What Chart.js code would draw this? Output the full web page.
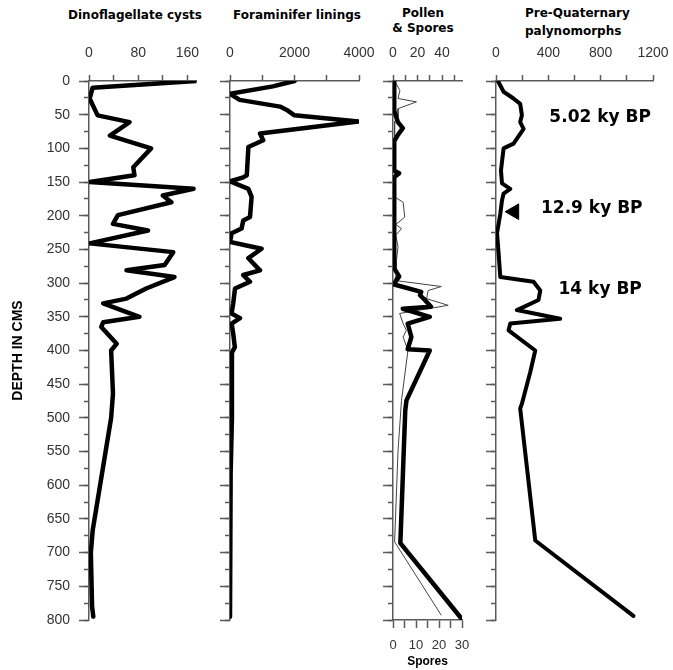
<!DOCTYPE html>
<html>
<head>
<meta charset="utf-8">
<title>Palynomorph depth profiles</title>
<script src="https://cdn.jsdelivr.net/npm/chart.js@4.4.1/dist/chart.umd.min.js"></script>
<style>
  body { margin: 0; background: #fff; }
  #wrap { position: relative; width: 673px; height: 670px; overflow: hidden; }
  canvas { position: absolute; top: 0; }
  .ttl { position: absolute; font: bold 12px "DejaVu Sans", sans-serif; color: #000; white-space: nowrap; }
</style>
</head>
<body>
<div id="wrap">
  <div class="ttl" style="left:65px;top:8px;width:140px;text-align:center">Dinoflagellate cysts</div>
  <div class="ttl" style="left:227px;top:8px;width:140px;text-align:center">Foraminifer linings</div>
  <div class="ttl" style="left:373px;top:6px;width:100px;text-align:center;line-height:15px">Pollen<br>&amp; Spores</div>
  <div class="ttl" style="left:525px;top:4px;line-height:18px">Pre-Quaternary<br>palynomorphs</div>
  <canvas id="dinoChart" width="225" height="670" style="left:0px"></canvas>
  <canvas id="foramChart" width="200" height="670" style="left:190px"></canvas>
  <canvas id="pollenChart" width="125" height="670" style="left:365px"></canvas>
  <canvas id="preQChart" width="225" height="670" style="left:465px"></canvas>
</div>
<script>
// Dinoflagellate cysts
const dinoDepth  = [0, 10, 26, 51, 61, 81, 100, 128, 140, 150, 160, 170, 180, 199, 212, 222, 241, 254, 273, 281, 291, 308, 323, 330, 350, 358, 365, 390, 400, 464, 500, 667, 700, 780, 795];
const dinoValues = [174, 6, 1, 14, 66, 34, 101, 72, 74, 1, 170, 120, 134, 47, 39, 96, 1, 137, 123, 61, 139, 93, 61, 23, 82, 23, 20, 45, 36, 39, 36, 6, 3, 5, 7];

// Foraminifer linings
const foramDepth  = [0, 8, 19, 28, 38, 43, 51, 60, 78, 88, 98, 140, 143, 149, 160, 172, 202, 207, 219, 226, 239, 249, 263, 281, 288, 298, 308, 330, 345, 352, 360, 375, 395, 404, 500, 582, 795];
const foramValues = [2000, 1330, 0, 300, 1550, 1760, 2000, 3980, 930, 1030, 570, 520, 410, 0, 570, 670, 620, 410, 360, 50, 0, 980, 570, 930, 410, 620, 155, 100, 50, 310, 50, 100, 150, 50, 60, 20, 0];

// Pollen & Spores (top axis, thick line)
const pollenDepth  = [0, 44, 61, 70, 80, 89, 133, 137, 143, 278, 290, 298, 302, 313, 318, 325, 335, 338, 350, 360, 380, 398, 400, 474, 489, 686, 797];
const pollenValues = [1, 1, 4, 8, 4, 1, 1, 5, 1, 1, 5, 2, 1, 23, 22, 26, 31, 8, 30, 12, 15, 12, 30, 11, 10, 6, 55.5];

// Spores (bottom axis, thin line)
const sporeDepth  = [0, 14, 26, 31, 41, 53, 60, 172, 180, 202, 213, 219, 229, 246, 266, 286, 296, 305, 311, 323, 333, 345, 360, 370, 380, 400, 474, 548, 684, 793];
const sporeValues = [0.7, 3, 2.2, 10.2, 2.2, 2.2, 0.7, 0.7, 4.4, 5.1, 1.2, 3.7, 1.2, 2.2, 1.5, 1.5, 0.7, 21, 15.3, 14.6, 24, 2.9, 4.4, 5.8, 4.4, 6.5, 3.7, 2.2, 0.7, 21];

// Pre-Quaternary palynomorphs
const preQDepth  = [0, 16, 26, 34, 51, 61, 71, 93, 100, 133, 152, 160, 167, 177, 197, 226, 256, 291, 298, 311, 325, 340, 353, 360, 370, 400, 432, 479, 486, 682, 794];
const preQValues = [15, 58, 134, 185, 198, 185, 211, 134, 58, 38, 46, 109, 58, 46, 33, 8, 20, 33, 287, 338, 325, 160, 490, 109, 96, 300, 262, 198, 185, 300, 1050];

// Age markers on the pre-Quaternary panel
const ageLabels = ["5.02 ky BP", "12.9 ky BP", "14 ky BP"];
const ageLabelValue = [796, 732, 796];
const ageLabelDepth = [55, 189, 310];
const markerValue = [139];
const markerDepth = [194];

// Top / bottom axis tick labels
const dinoTickLabels = [0, 80, 160];
const foramTickLabels = [0, 2000, 4000];
const pollenTickLabels = [0, 20, 40];
const sporeTickLabels = [0, 10, 20, 30];
const preQTickLabels = [0, 400, 800, 1200];

const AXIS = "#5a5a5a";
const TEXT = "#333";
const DEPTH_MAX = 800;

Chart.defaults.font.family = '"Liberation Sans", Arial, sans-serif';
Chart.defaults.color = TEXT;

function toPoints(depths, values) {
    return depths.map((d, i) => ({ x: values[i], y: d }));
}

function depthAxes(leftWidth, showLabels) {
    return {
        y: {
            type: "linear", position: "left", reverse: true, min: 0, max: DEPTH_MAX, weight: 1,
            afterFit: s => { s.width = leftWidth; },
            border: { display: true, color: AXIS, width: 1.5 },
            grid: { drawOnChartArea: false, tickLength: 10, color: AXIS, tickWidth: 1.5 },
            ticks: { display: showLabels, stepSize: 50, autoSkip: false, padding: 9, color: TEXT, font: { size: 14 } },
            title: {
                display: showLabels, text: "DEPTH IN CMS", color: "#000",
                font: { size: 14, weight: "bold" }, padding: { top: 10, bottom: 0 }
            }
        },
        // short ticks every 25 cm
        yMinor: {
            type: "linear", position: "left", reverse: true, min: 0, max: DEPTH_MAX, weight: 0,
            afterFit: s => { s.width = 0; },
            border: { display: false },
            grid: { drawOnChartArea: false, tickLength: 5, color: AXIS, tickWidth: 1.5 },
            ticks: { display: false, stepSize: 25, autoSkip: false }
        }
    };
}

function valueAxis(position, max, step, labels, size) {
    return {
        type: "linear", position: position, min: 0, max: max,
        afterFit: s => { s.height = size; },
        border: { color: AXIS, width: 1.5 },
        grid: { drawOnChartArea: false, tickLength: position === "top" ? 6 : 8, color: AXIS, tickWidth: 1.5 },
        ticks: {
            stepSize: step, includeBounds: false, autoSkip: false, maxRotation: 0,
            padding: position === "top" ? 13 : 10, color: TEXT, font: { size: position === "top" ? 14 : 13 },
            callback: v => labels.includes(v) ? String(v) : ""
        }
    };
}

function thickLine(points, width) {
    return {
        data: points, showLine: true, borderColor: "#000", borderWidth: width,
        pointRadius: 0, tension: 0, borderJoinStyle: "round", borderCapStyle: "round",
        xAxisID: "x", yAxisID: "y"
    };
}

const agePlugin = {
    id: "ageLabels",
    afterDatasetsDraw(chart) {
        const { ctx, scales } = chart;
        ctx.save();
        ctx.font = 'bold 17px "DejaVu Sans", sans-serif';
        ctx.fillStyle = "#000";
        ctx.textAlign = "center";
        ctx.textBaseline = "middle";
        ageLabels.forEach((t, i) => {
            ctx.fillText(t, scales.x.getPixelForValue(ageLabelValue[i]), scales.y.getPixelForValue(ageLabelDepth[i]));
        });
        ctx.restore();
    }
};

function makePanel(id, datasets, scales, padding, plugins) {
    return new Chart(document.getElementById(id), {
        type: "scatter",
        data: { datasets: datasets },
        options: {
            responsive: false,
            animation: false,
            events: [],
            layout: { padding: padding },
            plugins: { legend: { display: false }, tooltip: { enabled: false }, title: { display: false } },
            scales: scales
        },
        plugins: plugins || []
    });
}

// canvas right edge minus wanted chart-area right edge
makePanel("dinoChart",
    [thickLine(toPoints(dinoDepth, dinoValues), 4.5)],
    Object.assign({ x: valueAxis("top", 175, 40, dinoTickLabels, 81) }, depthAxes(89, true)),
    { left: 0, right: 225 - 196.6, top: 0, bottom: 50 });

makePanel("foramChart",
    [thickLine(toPoints(foramDepth, foramValues), 4.5)],
    Object.assign({ x: valueAxis("top", 4000, 1000, foramTickLabels, 81) }, depthAxes(40, false)),
    { left: 0, right: 390 - 359, top: 0, bottom: 50 });

makePanel("pollenChart",
    [
        thickLine(toPoints(pollenDepth, pollenValues), 4.5),
        {
            data: toPoints(sporeDepth, sporeValues), showLine: true, borderColor: "#444", borderWidth: 1,
            pointRadius: 0, tension: 0, xAxisID: "x2", yAxisID: "y"
        }
    ],
    Object.assign({
        x: valueAxis("top", 56.3, 10, pollenTickLabels, 81),
        x2: Object.assign(valueAxis("bottom", 30, 5, sporeTickLabels, 50), {
            title: { display: true, text: "Spores", color: "#000", font: { size: 12, weight: "bold" }, padding: { top: 0, bottom: 1 } }
        })
    }, depthAxes(28, false)),
    { left: 0, right: 490 - 462, top: 0, bottom: 0 });

makePanel("preQChart",
    [
        thickLine(toPoints(preQDepth, preQValues), 4),
        {
            data: toPoints(markerDepth, markerValue), showLine: false, pointStyle: "triangle",
            pointRadius: 9, pointRotation: 270, backgroundColor: "#000", borderColor: "#000",
            xAxisID: "x", yAxisID: "y"
        }
    ],
    Object.assign({ x: valueAxis("top", 1200, 200, preQTickLabels, 81) }, depthAxes(31, false)),
    { left: 0, right: 690 - 653, top: 0, bottom: 50 },
    [agePlugin]);
</script>
</body>
</html>
